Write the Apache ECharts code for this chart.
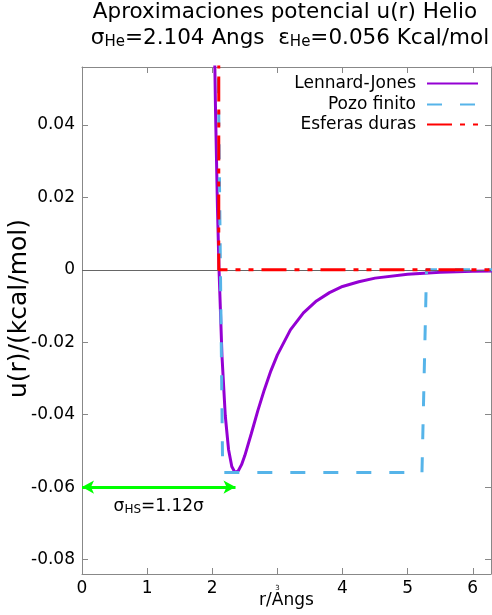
<!DOCTYPE html>
<html>
<head>
<meta charset="utf-8">
<script src="https://cdn.jsdelivr.net/npm/echarts@6/dist/echarts.min.js"></script>
<style>
  html, body { margin: 0; padding: 0; background: #fff; }
  #chart { width: 492px; height: 615px; }
</style>
</head>
<body>
<div id="chart"></div>
<script>
// Helium pair potential, sigma = 2.104 Angs, epsilon = 0.056 kcal/mol
const rLJ = [2.0, 2.02, 2.05, 2.08, 2.104, 2.15, 2.2, 2.25, 2.3, 2.35, 2.4, 2.45, 2.5, 2.6, 2.7, 2.8, 2.9, 3.0, 3.2, 3.4, 3.6, 3.8, 4.0, 4.25, 4.5, 5.0, 5.5, 6.0, 6.3];
const uLJ = [0.1079, 0.0793, 0.0442, 0.0171, 0, -0.0240, -0.0403, -0.0496, -0.0543, -0.0560, -0.0555, -0.0538, -0.0513, -0.0452, -0.0389, -0.0331, -0.0279, -0.0235, -0.0166, -0.0119, -0.0086, -0.0063, -0.0046, -0.0033, -0.0023, -0.0012, -0.0007, -0.0004, -0.0003];

// square well
const rWell = [2.088, 2.16, 5.22, 5.29, 6.3];
const uWell = [0.062, -0.056, -0.056, 0, 0];

// hard spheres
const rHS = [2.1, 2.1, 6.3];
const uHS = [0.2, 0, 0];

// hard-sphere diameter arrow (0 -> 1.12 sigma)
const arrowX = [0, 2.357];
const arrowY = -0.06;

const yTicks = [-0.08, -0.06, -0.04, -0.02, 0, 0.02, 0.04];

const FONT = 'DejaVu Sans';
const pairs = (xs, ys) => xs.map((x, i) => [x, ys[i]]);

const chart = echarts.init(document.getElementById('chart'), null, { renderer: 'canvas' });

const legendBase = {
  orient: 'horizontal',
  right: 13,
  align: 'right',
  padding: 0,
  itemWidth: 51,
  itemHeight: 14,
  itemStyle: { opacity: 0 },
  textStyle: { fontFamily: FONT, fontSize: 17, color: '#000', padding: [0, 6, 0, 0] },
  selectedMode: false
};

const frameAxis = {
  axisLine: { show: true, onZero: false, lineStyle: { color: '#888', width: 1 } },
  splitLine: { show: false }
};

const titleStyle = {
  fontFamily: FONT,
  fontSize: 21.5,
  fontWeight: 'normal',
  color: '#000',
  rich: {
    sub: { fontFamily: FONT, fontSize: 15, color: '#000', padding: [8, 0, 0, 0] }
  }
};

const option = {
  animation: false,
  backgroundColor: '#fff',
  textStyle: { fontFamily: FONT },
  title: [
    {
      text: 'Aproximaciones potencial u(r) Helio',
      left: 285, top: 1, textAlign: 'center', padding: 0,
      textStyle: titleStyle
    },
    {
      text: 'σ{sub|He}=2.104 Angs  ε{sub|He}=0.056 Kcal/mol',
      left: 290, top: 27, textAlign: 'center', padding: 0,
      textStyle: titleStyle
    }
  ],
  legend: [
    Object.assign({ data: ['Lennard-Jones'], top: 75 }, legendBase),
    Object.assign({ data: ['Pozo finito'], top: 96 }, legendBase),
    Object.assign({ data: ['Esferas duras'], top: 116 }, legendBase)
  ],
  grid: { left: 82, top: 67, right: 1, bottom: 41, containLabel: false, outerBoundsMode: 'none' },
  xAxis: [
    Object.assign({}, frameAxis, {
      type: 'value', min: 0, max: 6.28, interval: 1,
      name: 'r/Angs', nameLocation: 'middle', nameGap: 18, nameMoveOverlap: false,
      nameTextStyle: { fontFamily: FONT, fontSize: 17, color: '#000' },
      axisTick: { show: true, inside: true, length: 6, lineStyle: { color: '#888' } },
      axisLabel: {
        fontFamily: FONT, fontSize: 17, color: '#000', margin: 6,
        showMaxLabel: false,
        formatter: v => (v === 3 ? '{t|3}' : String(v)),
        rich: { t: { fontFamily: FONT, fontSize: 7, color: '#000', padding: [5, 0, 0, 0] } }
      }
    }),
    Object.assign({}, frameAxis, {
      type: 'value', position: 'top', min: 0, max: 6.28, interval: 1,
      axisTick: { show: true, inside: true, length: 6, lineStyle: { color: '#888' } },
      axisLabel: { show: false }
    })
  ],
  yAxis: [
    Object.assign({}, frameAxis, {
      type: 'value', min: -0.084, max: 0.056,
      name: 'u(r)/(kcal/mol)', nameLocation: 'middle', nameGap: 50, nameMoveOverlap: false,
      nameTextStyle: { fontFamily: FONT, fontSize: 25, color: '#000', padding: [0, 0, 0, 24] },
      axisTick: { show: true, inside: true, length: 6, lineStyle: { color: '#888' }, customValues: yTicks },
      axisLabel: {
        fontFamily: FONT, fontSize: 17, color: '#000', margin: 7,
        customValues: yTicks,
        formatter: v => (Math.abs(v) < 1e-9 ? '0' : v.toFixed(2))
      }
    }),
    Object.assign({}, frameAxis, {
      type: 'value', position: 'right', min: -0.084, max: 0.056,
      axisTick: { show: true, inside: true, length: 6, lineStyle: { color: '#888' }, customValues: yTicks },
      axisLabel: { show: false, customValues: yTicks }
    })
  ],
  series: [
    {
      // zero reference line
      name: 'cero', type: 'line', data: [], z: 1, silent: true,
      markLine: {
        silent: true, symbol: ['none', 'none'], label: { show: false },
        lineStyle: { color: '#666', width: 1, type: 'solid' },
        data: [{ yAxis: 0 }]
      }
    },
    {
      name: 'Lennard-Jones', type: 'line', data: pairs(rLJ, uLJ),
      showSymbol: false, symbol: 'none', smooth: false, clip: true, z: 3,
      lineStyle: { color: '#9400D3', width: 3 }, itemStyle: { color: '#9400D3' }
    },
    {
      name: 'Pozo finito', type: 'line', data: pairs(rWell, uWell),
      showSymbol: false, symbol: 'none', clip: true, z: 4,
      lineStyle: { color: '#56B4E9', width: 3, type: [15, 18] }, itemStyle: { color: '#56B4E9' }
    },
    {
      name: 'Esferas duras', type: 'line', data: pairs(rHS, uHS),
      showSymbol: false, symbol: 'none', clip: true, z: 5,
      lineStyle: { color: '#FF0000', width: 3, type: [25, 8, 5, 8, 5, 8] }, itemStyle: { color: '#FF0000' }
    },
    {
      name: 'sigmaHS', type: 'line', data: [], z: 6, silent: true,
      markLine: {
        silent: true,
        symbol: ['arrow', 'arrow'],
        symbolSize: [10, 12],
        lineStyle: { color: '#00FF00', width: 3, type: 'solid' },
        label: {
          show: true,
          position: 'insideMiddleBottom',
          distance: 10,
          formatter: 'σ{sub|HS}=1.12σ',
          fontFamily: FONT, fontSize: 17, color: '#000',
          rich: { sub: { fontFamily: FONT, fontSize: 12, color: '#000', padding: [7, 0, 0, 0] } }
        },
        data: [[{ coord: [arrowX[0], arrowY] }, { coord: [arrowX[1], arrowY] }]]
      }
    }
  ]
};

chart.setOption(option);
</script>
</body>
</html>
